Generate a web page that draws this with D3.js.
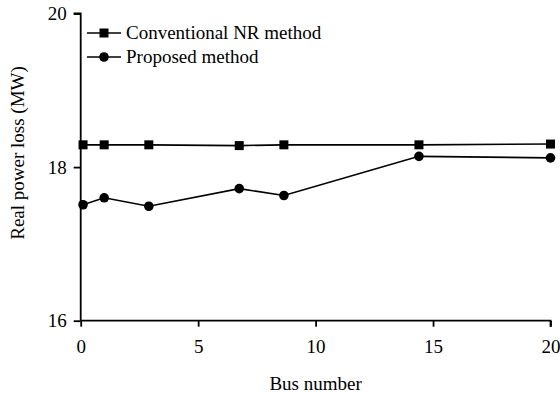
<!DOCTYPE html>
<html>
<head>
<meta charset="utf-8">
<script src="https://cdn.jsdelivr.net/npm/d3@7"></script>
<style>
  body { margin: 0; background: #fff; }
  text { font-family: "Liberation Serif", "Times New Roman", serif; fill: #000; }
</style>
</head>
<body>
<svg id="chart" width="560" height="398"></svg>
<script>
"use strict";

//
// Data
//

var busNumbers = [0.1, 1, 2.9, 6.75, 8.65, 14.4, 20];
var conventionalLoss = [18.29, 18.29, 18.29, 18.28, 18.29, 18.29, 18.30];
var proposedLoss = [17.51, 17.60, 17.49, 17.72, 17.63, 18.14, 18.12];
var xTicks = [0, 5, 10, 15, 20];
var yTicks = [16, 18, 20];
var seriesNames = ["Conventional NR method", "Proposed method"];

//
// Layout
//

var svg = d3.select("#chart");
var fontSize = "19px";

var x = d3.scaleLinear().domain([0, 20]).range([80.7, 550.5]);
var y = d3.scaleLinear().domain([16, 20]).range([320.7, 13.5]);

// axes
var xAxis = svg.append("g")
    .attr("transform", "translate(0," + y(16) + ")")
    .call(d3.axisBottom(x).tickValues(xTicks).tickSize(6).tickPadding(13).tickFormat(d3.format("d")));

var yAxis = svg.append("g")
    .attr("transform", "translate(" + x(0) + ",0)")
    .call(d3.axisLeft(y).tickValues(yTicks).tickSize(7).tickPadding(7).tickFormat(d3.format("d")));

[xAxis, yAxis].forEach(function (g) {
    g.select(".domain").attr("stroke", "#000").attr("stroke-width", 1.8);
    g.selectAll(".tick line").attr("stroke", "#000").attr("stroke-width", 1.8);
    g.selectAll(".tick text").style("font-size", fontSize).attr("fill", "#000")
        .style("font-family", "'Liberation Serif', serif");
});

// y axis: outer tick at top only, x axis: outer tick at right end
yAxis.select(".domain").attr("d", "M-7," + y(20) + "H0V" + y(16));
xAxis.select(".domain").attr("d", "M" + x(0) + ",0H" + x(20) + "V6");

// axis titles
svg.append("text")
    .attr("x", (x(0) + x(20)) / 2)
    .attr("y", 390)
    .attr("text-anchor", "middle")
    .style("font-size", fontSize)
    .text("Bus number");

svg.append("text")
    .attr("transform", "translate(24,153) rotate(-90)")
    .attr("text-anchor", "middle")
    .style("font-size", fontSize)
    .text("Real power loss (MW)");

//
// Series
//

var line = d3.line()
    .x(function (d) { return x(d[0]); })
    .y(function (d) { return y(d[1]); });

var convPoints = busNumbers.map(function (b, i) { return [b, conventionalLoss[i]]; });
var propPoints = busNumbers.map(function (b, i) { return [b, proposedLoss[i]]; });

svg.append("path")
    .datum(convPoints)
    .attr("d", line)
    .attr("fill", "none")
    .attr("stroke", "#000")
    .attr("stroke-width", 1.6);

svg.append("path")
    .datum(propPoints)
    .attr("d", line)
    .attr("fill", "none")
    .attr("stroke", "#000")
    .attr("stroke-width", 1.6);

var sq = 9;

svg.selectAll(".sq")
    .data(convPoints)
    .enter().append("rect")
    .attr("class", "sq")
    .attr("x", function (d) { return x(d[0]) - sq / 2; })
    .attr("y", function (d) { return y(d[1]) - sq / 2; })
    .attr("width", sq)
    .attr("height", sq)
    .attr("fill", "#000");

svg.selectAll(".dot")
    .data(propPoints)
    .enter().append("circle")
    .attr("class", "dot")
    .attr("cx", function (d) { return x(d[0]); })
    .attr("cy", function (d) { return y(d[1]); })
    .attr("r", 4.8)
    .attr("fill", "#000");

//
// Legend
//

var legend = svg.append("g");
var legendY = [33, 57];

seriesNames.forEach(function (name, i) {

    var ly = legendY[i];

    legend.append("line")
        .attr("x1", 87).attr("x2", 121)
        .attr("y1", ly).attr("y2", ly)
        .attr("stroke", "#000")
        .attr("stroke-width", 1.6);

    if (i === 0) {
        legend.append("rect")
            .attr("x", 104 - sq / 2).attr("y", ly - sq / 2)
            .attr("width", sq).attr("height", sq)
            .attr("fill", "#000");
    } else {
        legend.append("circle")
            .attr("cx", 104).attr("cy", ly)
            .attr("r", 4.8)
            .attr("fill", "#000");
    }

    legend.append("text")
        .attr("x", 126)
        .attr("y", ly + 6)
        .style("font-size", fontSize)
        .text(name);
});
</script>
</body>
</html>
